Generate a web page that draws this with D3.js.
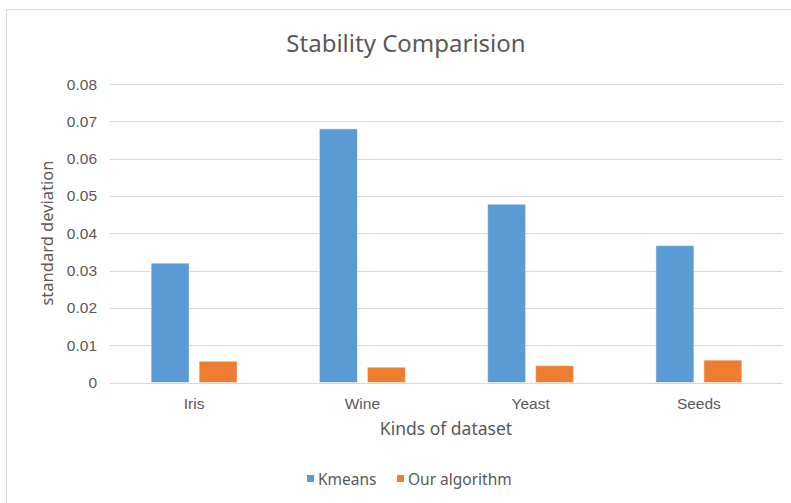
<!DOCTYPE html>
<html><head><meta charset="utf-8">
<script src="https://cdn.jsdelivr.net/npm/d3@7"></script>
<style>
html,body{margin:0;padding:0;background:#fff;}
svg{display:block;font-family:"Noto Sans","DejaVu Sans",sans-serif;}
</style></head>
<body><svg id="c" width="791" height="503"></svg>
<script>
const categories = ["Iris", "Wine", "Yeast", "Seeds"];
const seriesNames = ["Kmeans", "Our algorithm"];
const kmeans = [0.032, 0.068, 0.0478, 0.0367];
const ours = [0.0057, 0.0041, 0.0045, 0.006];
const yTicks = [0, 0.01, 0.02, 0.03, 0.04, 0.05, 0.06, 0.07, 0.08];
const colors = ["#5b9bd5", "#ed7d31"];

const svg = d3.select("#c");
const textColor = "#595959";

// chart border
svg.append("rect").attr("x", 6.5).attr("y", 9.5).attr("width", 800).attr("height", 520)
  .attr("fill", "#fff").attr("stroke", "#d9d9d9").attr("stroke-width", 1);

const m = {left: 110, right: 783, top: 84.1, bottom: 382.5};
const x = d3.scaleBand().domain(categories).range([m.left, m.right]).paddingInner(0).paddingOuter(0);
const xs = d3.scaleBand().domain(seriesNames).range([0, x.bandwidth()]).paddingInner(0.208).paddingOuter(0.857);
const y = d3.scaleLinear().domain([0, 0.08]).range([m.bottom, m.top]);

// gridlines
svg.append("g").selectAll("line").data(yTicks.slice(1)).join("line")
  .attr("x1", m.left).attr("x2", m.right)
  .attr("y1", d => Math.round(y(d)) + 0.5).attr("y2", d => Math.round(y(d)) + 0.5)
  .attr("stroke", "#d9d9d9").attr("stroke-width", 1);

// y tick labels
const yAxis = d3.axisLeft(y).tickValues(yTicks).tickSize(0).tickPadding(0)
  .tickFormat(d => d === 0 ? "0" : d3.format(".2f")(d));
const ya = svg.append("g").attr("transform", `translate(${m.left - 13},0)`).call(yAxis);
ya.select(".domain").remove();
ya.selectAll("text").attr("fill", textColor).attr("font-size", 15.5).attr("font-family", "inherit");

// bars
const data = categories.map((c, i) => ({cat: c, vals: [kmeans[i], ours[i]]}));
const g = svg.append("g").selectAll("g").data(data).join("g")
  .attr("transform", d => `translate(${x(d.cat)},0)`);
g.selectAll("rect").data(d => d.vals.map((v, j) => ({name: seriesNames[j], v, j}))).join("rect")
  .attr("x", d => xs(d.name)).attr("width", xs.bandwidth())
  .attr("y", d => y(d.v)).attr("height", d => y(0) - y(d.v))
  .attr("fill", d => colors[d.j]).attr("stroke", "#ffffff").attr("stroke-opacity", 0.5).attr("stroke-width", 1);

// baseline
svg.append("line").attr("x1", m.left).attr("x2", m.right)
  .attr("y1", Math.round(y(0)) + 0.5).attr("y2", Math.round(y(0)) + 0.5)
  .attr("stroke", "#d9d9d9").attr("stroke-width", 1);

// x axis labels
const xAxis = d3.axisBottom(x).tickSize(0).tickPadding(0);
const xa = svg.append("g").attr("transform", `translate(0,${m.bottom + 26})`).call(xAxis);
xa.select(".domain").remove();
xa.selectAll("text").attr("fill", textColor).attr("font-size", 15.5).attr("font-family", "inherit").attr("dy", 0);

// title
svg.append("text").attr("x", 406).attr("y", 52).attr("text-anchor", "middle")
  .attr("fill", textColor).attr("font-size", 24).text("Stability Comparision");

// axis titles
svg.append("text").attr("x", 446).attr("y", 435).attr("text-anchor", "middle")
  .attr("fill", textColor).attr("font-size", 17.5).text("Kinds of dataset");
svg.append("text").attr("transform", "translate(53,233) rotate(-90)").attr("text-anchor", "middle")
  .attr("fill", textColor).attr("font-size", 16.5).text("standard deviation");

// legend
const legendX = [307, 397];
const lg = svg.append("g").selectAll("g").data(seriesNames).join("g")
  .attr("transform", (d, i) => `translate(${legendX[i]},479)`);
lg.append("rect").attr("x", 0).attr("y", -4).attr("width", 7).attr("height", 7).attr("fill", (d, i) => colors[i]);
lg.append("text").attr("x", 11).attr("y", 5.5).attr("fill", textColor).attr("font-size", 15.5).text(d => d);
</script></body></html>
